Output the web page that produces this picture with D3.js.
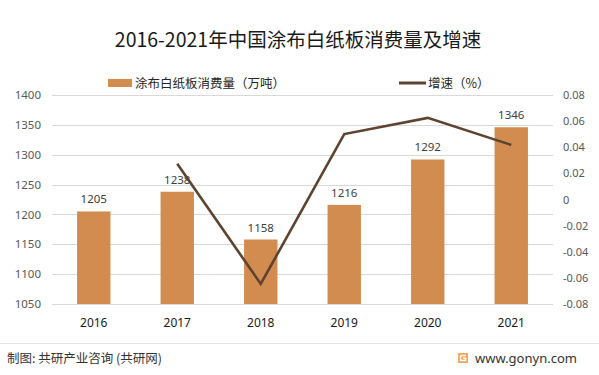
<!DOCTYPE html>
<html>
<head>
<meta charset="utf-8">
<script src="https://cdn.jsdelivr.net/npm/d3@7"></script>
<style>
  body { margin: 0; background: #fff; }
  svg { display: block; font-family: "Microsoft YaHei", "Noto Sans CJK SC", sans-serif; }
</style>
</head>
<body>
<svg class="chart" width="599" height="375"></svg>
<script>
var years = ["2016", "2017", "2018", "2019", "2020", "2021"];
var consumption = [1205, 1238, 1158, 1216, 1292, 1346];
var growth = [null, 0.0274, -0.0646, 0.0501, 0.0625, 0.0418];
var leftTicks = [1050, 1100, 1150, 1200, 1250, 1300, 1350, 1400];
var rightTicks = [-0.08, -0.06, -0.04, -0.02, 0, 0.02, 0.04, 0.06, 0.08];

var vis = d3.select(".chart"),
    WIDTH = 599,
    HEIGHT = 375,
    MARGINS = { top: 95, right: 46, bottom: 71, left: 52 };

var xScale = d3.scaleBand().domain(years).range([MARGINS.left, WIDTH - MARGINS.right]).paddingInner(0.6).paddingOuter(0.3),
    yScale = d3.scaleLinear().domain([1050, 1400]).range([HEIGHT - MARGINS.bottom, MARGINS.top]),
    y2Scale = d3.scaleLinear().domain([-0.08, 0.08]).range([HEIGHT - MARGINS.bottom, MARGINS.top]);

// title
vis.append("text")
  .attr("x", 298).attr("y", 47)
  .attr("text-anchor", "middle")
  .attr("font-size", 19.5)
  .attr("fill", "#1a1a1a")
  .text("2016-2021年中国涂布白纸板消费量及增速");

// legend
var legend = vis.append("g").attr("font-size", 12.5).attr("fill", "#262626");
legend.append("rect").attr("x", 108).attr("y", 79).attr("width", 24).attr("height", 8).attr("fill", "#D38C4F");
legend.append("text").attr("x", 135).attr("y", 88).text("涂布白纸板消费量（万吨）");
legend.append("line").attr("x1", 399).attr("x2", 426).attr("y1", 83).attr("y2", 83)
  .attr("stroke", "#5E4330").attr("stroke-width", 3);
legend.append("text").attr("x", 428).attr("y", 88).text("增速（%）");

// grid
vis.append("g").selectAll("line").data(leftTicks).enter().append("line")
  .attr("x1", MARGINS.left).attr("x2", WIDTH - MARGINS.right)
  .attr("y1", function (d) { return Math.round(yScale(d)) + 0.5; })
  .attr("y2", function (d) { return Math.round(yScale(d)) + 0.5; })
  .attr("stroke", "#d9d9d9").attr("stroke-width", 1);

// left axis
var yAxis = d3.axisLeft(yScale).tickValues(leftTicks).tickSize(0).tickPadding(0).tickFormat(d3.format("d"));
vis.append("g")
  .attr("transform", "translate(41,0)")
  .call(yAxis)
  .call(function (g) { g.select(".domain").remove(); })
  .selectAll("text").attr("font-size", 11.5).attr("fill", "#595959").attr("font-family", "Noto Sans, sans-serif");

// right axis
var y2Axis = d3.axisRight(y2Scale).tickValues(rightTicks).tickSize(0).tickPadding(0)
  .tickFormat(function (d) { return d === 0 ? "0" : d3.format(".2f")(d).replace("−", "-"); });
vis.append("g")
  .attr("transform", "translate(563,0)")
  .call(y2Axis)
  .call(function (g) { g.select(".domain").remove(); })
  .selectAll("text").attr("font-size", 11).attr("fill", "#595959").attr("font-family", "Noto Sans, sans-serif");

// x axis
var xAxis = d3.axisBottom(xScale).tickSize(0).tickPadding(0);
vis.append("g")
  .attr("transform", "translate(0," + (HEIGHT - MARGINS.bottom + 14) + ")")
  .call(xAxis)
  .call(function (g) { g.select(".domain").remove(); })
  .selectAll("text").attr("font-size", 12).attr("fill", "#1a1a1a").attr("font-family", "Noto Sans, sans-serif");

// bars
vis.append("g").selectAll("rect").data(consumption).enter().append("rect")
  .attr("x", function (d, i) { return xScale(years[i]); })
  .attr("width", xScale.bandwidth())
  .attr("y", function (d) { return yScale(d); })
  .attr("height", function (d) { return yScale(1050) - yScale(d); })
  .attr("fill", "#D38C4F");

// bar labels
vis.append("g").selectAll("text").data(consumption).enter().append("text")
  .attr("x", function (d, i) { return xScale(years[i]) + xScale.bandwidth() / 2; })
  .attr("y", function (d) { return yScale(d) - 8; })
  .attr("text-anchor", "middle")
  .attr("font-size", 11.5)
  .attr("font-family", "Noto Sans, sans-serif")
  .attr("fill", "#404040")
  .text(function (d) { return d; });

// growth line
var lineGen = d3.line()
  .defined(function (d) { return d !== null; })
  .x(function (d, i) { return xScale(years[i]) + xScale.bandwidth() / 2; })
  .y(function (d) { return y2Scale(d); });

vis.append("path")
  .attr("d", lineGen(growth))
  .attr("stroke", "#5E4330")
  .attr("stroke-width", 2.6)
  .attr("fill", "none");

// footer
vis.append("line").attr("x1", 0).attr("x2", WIDTH).attr("y1", 343.5).attr("y2", 343.5)
  .attr("stroke", "#e3e3e3").attr("stroke-width", 1);
vis.append("text").attr("x", 7).attr("y", 363).attr("font-size", 12.5).attr("fill", "#333")
  .text("制图: 共研产业咨询 (共研网)");
var logo = vis.append("g").attr("transform", "translate(458,353)");
logo.append("rect").attr("width", 10).attr("height", 10).attr("rx", 1).attr("fill", "#F5A25A");
logo.append("path").attr("d", "M2.5,2.5 H8 M2.5,2.5 V7.5 H7.5 V5.2 H5").attr("stroke", "#fff").attr("stroke-width", 1.6).attr("fill", "none");
vis.append("text").attr("x", 475).attr("y", 363).attr("font-size", 13).attr("fill", "#333")
  .attr("font-family", "Noto Sans, sans-serif")
  .text("www.gonyn.com");
</script>
</body>
</html>
